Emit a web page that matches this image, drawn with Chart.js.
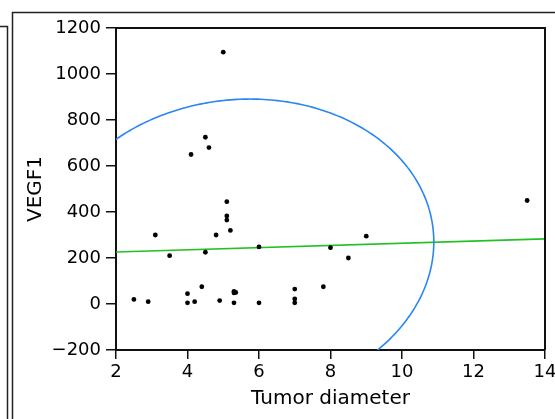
<!DOCTYPE html>
<html>
<head>
<meta charset="utf-8">
<script src="https://cdn.jsdelivr.net/npm/chart.js@4"></script>
<style>
  body { margin: 0; background: #fff; }
  canvas { display: block; }
</style>
</head>
<body>
<canvas id="vegfChart" width="555" height="419"></canvas>
<script>
// Tumor diameter vs VEGF1
const diameter = [2.5, 2.9, 3.1, 3.5, 4.0, 4.0, 4.1, 4.2, 4.4, 4.5, 4.5, 4.6, 4.8, 4.9, 5.0, 5.1, 5.1, 5.1, 5.2, 5.3, 5.3, 5.35, 5.3, 6.0, 6.0, 7.0, 7.0, 7.0, 7.8, 8.0, 8.5, 9.0, 13.5];
const vegf1 = [20, 10, 300, 210, 45, 5, 650, 10, 75, 225, 725, 680, 300, 15, 1095, 445, 383, 365, 320, 55, 48, 50, 5, 248, 5, 65, 22, 5, 75, 245, 200, 295, 450];

// linear fit end points
const fitX = [2, 14];
const fitY = [226, 283];

// density ellipse: centre x, centre y, sd x, sd y, correlation
const ellipse = [5.48, 237, 5.41, 654, 0.05];

const xTicks = [2, 4, 6, 8, 10, 12, 14];
const yTicks = [-200, 0, 200, 400, 600, 800, 1000, 1200];

const FONT = 'DejaVu Sans';

// outer frames, plot border and the ellipse
const extras = {
    id: 'extras',
    beforeDraw(chart) {
        const c = chart.ctx;
        c.save();
        c.strokeStyle = '#222';
        c.lineWidth = 1.5;
        c.beginPath();
        c.moveTo(0, 26.5); c.lineTo(7.5, 26.5); c.lineTo(7.5, 419);
        c.moveTo(12.5, 419); c.lineTo(12.5, 12.5); c.lineTo(555, 12.5);
        c.stroke();
        c.restore();
    },
    afterDatasetsDraw(chart) {
        const c = chart.ctx;
        const a = chart.chartArea;
        const xs = chart.scales.x, ys = chart.scales.y;
        const [cx, cy, sx, sy, r] = ellipse;
        c.save();
        c.beginPath();
        c.rect(a.left, a.top, a.right - a.left, a.bottom - a.top);
        c.clip();
        c.strokeStyle = '#2a86f3';
        c.lineWidth = 1.6;
        c.beginPath();
        for (let i = 0; i <= 360; i++) {
            const t = i * Math.PI / 180;
            const vx = cx + sx * Math.cos(t);
            const vy = cy + sy * (r * Math.cos(t) + Math.sqrt(1 - r * r) * Math.sin(t));
            const px = xs.getPixelForValue(vx), py = ys.getPixelForValue(vy);
            if (i === 0) c.moveTo(px, py); else c.lineTo(px, py);
        }
        c.stroke();
        c.restore();

        c.save();
        c.strokeStyle = '#111';
        c.lineWidth = 2;
        c.beginPath();
        c.moveTo(a.left, a.top);
        c.lineTo(a.right, a.top);
        c.lineTo(a.right, a.bottom);
        c.stroke();
        c.restore();
    }
};

const ctx = document.getElementById('vegfChart').getContext('2d');
new Chart(ctx, {
    type: 'scatter',
    data: {
        datasets: [{
            type: 'line',
            data: fitX.map((x, i) => ({ x: x, y: fitY[i] })),
            borderColor: '#22c022',
            borderWidth: 1.6,
            pointRadius: 0,
            fill: false,
            order: 2
        }, {
            data: diameter.map((x, i) => ({ x: x, y: vegf1[i] })),
            backgroundColor: '#000',
            borderColor: '#000',
            borderWidth: 0,
            pointRadius: 2.4,
            order: 1
        }]
    },
    options: {
        responsive: false,
        animation: false,
        devicePixelRatio: 1,
        layout: { padding: { top: 28, right: 10, left: 0, bottom: 0 } },
        plugins: {
            legend: { display: false },
            tooltip: { enabled: false }
        },
        scales: {
            x: {
                type: 'linear',
                min: 2,
                max: 14,
                afterBuildTicks: s => { s.ticks = xTicks.map(v => ({ value: v })); },
                afterFit: s => { s.height = 69; s.paddingLeft = 0; s.paddingRight = 0; },
                border: { display: true, color: '#111', width: 2 },
                grid: { drawOnChartArea: false, drawTicks: true, tickLength: 9, color: '#111', lineWidth: 1.5 },
                ticks: { color: '#000', padding: 3, font: { family: FONT, size: 18 } },
                title: {
                    display: true,
                    text: 'Tumor diameter',
                    color: '#000',
                    font: { family: FONT, size: 20 },
                    padding: { top: 0, bottom: 8 }
                }
            },
            y: {
                type: 'linear',
                min: -200,
                max: 1200,
                afterBuildTicks: s => { s.ticks = yTicks.map(v => ({ value: v })); },
                afterFit: s => { s.width = 116; s.paddingTop = 0; s.paddingBottom = 0; },
                border: { display: true, color: '#111', width: 2 },
                grid: { drawOnChartArea: false, drawTicks: true, tickLength: 10, color: '#111', lineWidth: 1.5 },
                ticks: {
                    color: '#000',
                    padding: 5,
                    font: { family: FONT, size: 18 },
                    callback: v => String(v).replace('-', '\u2212')
                },
                title: {
                    display: true,
                    text: 'VEGF1',
                    color: '#000',
                    font: { family: FONT, size: 20 },
                    padding: { top: 24, bottom: 0 }
                }
            }
        }
    },
    plugins: [extras]
});
</script>
</body>
</html>
